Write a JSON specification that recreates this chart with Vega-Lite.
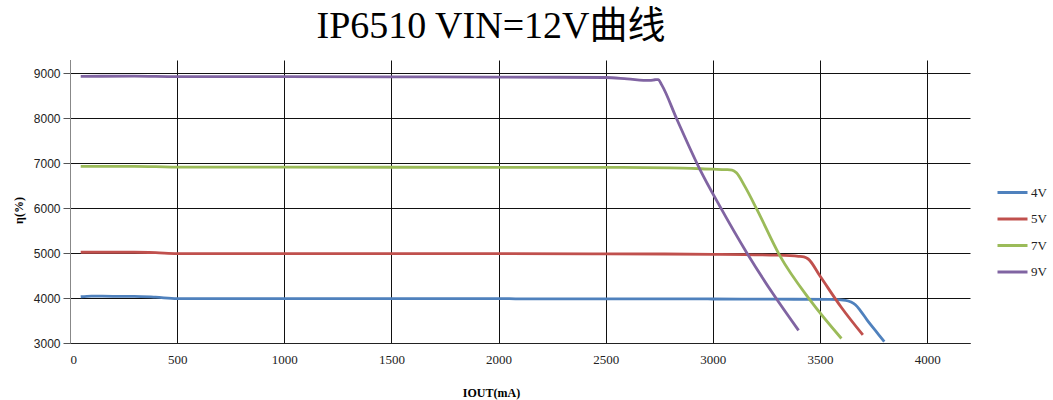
{
  "$schema": "https://vega.github.io/schema/vega-lite/v6.json",
  "autosize": {"type": "none"},
  "width": 900,
  "height": 283,
  "padding": {"left": 70, "top": 60, "right": 83, "bottom": 57},
  "background": "white",
  "title": {
    "text": "IP6510 VIN=12V曲线",
    "font": "Liberation Serif, Noto Sans CJK SC",
    "fontSize": 38,
    "fontWeight": "normal",
    "color": "#000",
    "anchor": "middle",
    "dx": -29,
    "offset": 14
  },
  "data": {
    "values": [
      {"series": "4V", "x": 50, "y": 4030},
      {"series": "4V", "x": 100, "y": 4045},
      {"series": "4V", "x": 200, "y": 4040},
      {"series": "4V", "x": 300, "y": 4040},
      {"series": "4V", "x": 400, "y": 4020},
      {"series": "4V", "x": 500, "y": 3990},
      {"series": "4V", "x": 1000, "y": 3990},
      {"series": "4V", "x": 1500, "y": 3990},
      {"series": "4V", "x": 2000, "y": 3990},
      {"series": "4V", "x": 2100, "y": 3982},
      {"series": "4V", "x": 2500, "y": 3982},
      {"series": "4V", "x": 3000, "y": 3980},
      {"series": "4V", "x": 3300, "y": 3975},
      {"series": "4V", "x": 3550, "y": 3970},
      {"series": "4V", "x": 3620, "y": 3950},
      {"series": "4V", "x": 3645, "y": 3910},
      {"series": "4V", "x": 3665, "y": 3850},
      {"series": "4V", "x": 3690, "y": 3710},
      {"series": "4V", "x": 3720, "y": 3510},
      {"series": "4V", "x": 3760, "y": 3270},
      {"series": "4V", "x": 3800, "y": 3030},
      {"series": "5V", "x": 50, "y": 5020},
      {"series": "5V", "x": 300, "y": 5020},
      {"series": "5V", "x": 400, "y": 5010},
      {"series": "5V", "x": 500, "y": 4990},
      {"series": "5V", "x": 1000, "y": 4990},
      {"series": "5V", "x": 2000, "y": 4988},
      {"series": "5V", "x": 2500, "y": 4985},
      {"series": "5V", "x": 3000, "y": 4975},
      {"series": "5V", "x": 3300, "y": 4955},
      {"series": "5V", "x": 3400, "y": 4930},
      {"series": "5V", "x": 3425, "y": 4915},
      {"series": "5V", "x": 3445, "y": 4870},
      {"series": "5V", "x": 3500, "y": 4490},
      {"series": "5V", "x": 3600, "y": 3790},
      {"series": "5V", "x": 3700, "y": 3180},
      {"series": "7V", "x": 50, "y": 6930},
      {"series": "7V", "x": 300, "y": 6930},
      {"series": "7V", "x": 400, "y": 6925},
      {"series": "7V", "x": 500, "y": 6915},
      {"series": "7V", "x": 1000, "y": 6915},
      {"series": "7V", "x": 2000, "y": 6910},
      {"series": "7V", "x": 2500, "y": 6910},
      {"series": "7V", "x": 2800, "y": 6900},
      {"series": "7V", "x": 3000, "y": 6870},
      {"series": "7V", "x": 3060, "y": 6860},
      {"series": "7V", "x": 3090, "y": 6850},
      {"series": "7V", "x": 3110, "y": 6790},
      {"series": "7V", "x": 3150, "y": 6480},
      {"series": "7V", "x": 3206, "y": 5970},
      {"series": "7V", "x": 3313, "y": 4940},
      {"series": "7V", "x": 3453, "y": 3960},
      {"series": "7V", "x": 3600, "y": 3100},
      {"series": "9V", "x": 50, "y": 8935},
      {"series": "9V", "x": 300, "y": 8940},
      {"series": "9V", "x": 500, "y": 8930},
      {"series": "9V", "x": 1000, "y": 8930},
      {"series": "9V", "x": 1500, "y": 8925},
      {"series": "9V", "x": 2000, "y": 8920},
      {"series": "9V", "x": 2500, "y": 8910},
      {"series": "9V", "x": 2600, "y": 8880},
      {"series": "9V", "x": 2705, "y": 8845},
      {"series": "9V", "x": 2730, "y": 8860},
      {"series": "9V", "x": 2745, "y": 8865},
      {"series": "9V", "x": 2762, "y": 8740},
      {"series": "9V", "x": 2833, "y": 7970},
      {"series": "9V", "x": 2940, "y": 6860},
      {"series": "9V", "x": 3033, "y": 6040},
      {"series": "9V", "x": 3158, "y": 5010},
      {"series": "9V", "x": 3280, "y": 4100},
      {"series": "9V", "x": 3400, "y": 3280}
    ]
  },
  "mark": {"type": "line", "strokeWidth": 2.8, "interpolate": "monotone", "clip": true},
  "encoding": {
    "x": {
      "field": "x",
      "type": "quantitative",
      "scale": {"domain": [0, 4200], "nice": false, "zero": false},
      "axis": {
        "values": [0, 500, 1000, 1500, 2000, 2500, 3000, 3500, 4000],
        "format": "d",
        "title": "IOUT(mA)",
        "titleFont": "Liberation Serif, Noto Sans CJK SC",
        "titleFontWeight": "bold",
        "titleFontSize": 12,
        "titleColor": "#000",
        "titleX": 421,
        "titlePadding": 21,
        "labelFont": "Liberation Serif",
        "labelFontSize": 13,
        "labelColor": "#222",
        "labelPadding": 10,
        "ticks": false,
        "domainColor": "#222",
        "domainWidth": 1,
        "grid": true,
        "gridColor": "#111",
        "gridWidth": 1
      }
    },
    "y": {
      "field": "y",
      "type": "quantitative",
      "scale": {"domain": [3000, 9300], "nice": false, "zero": false},
      "axis": {
        "values": [3000, 4000, 5000, 6000, 7000, 8000, 9000],
        "format": "d",
        "title": "η(%)",
        "titleFont": "Liberation Serif",
        "titleFontWeight": "bold",
        "titleFontSize": 12,
        "titleColor": "#000",
        "titleX": -45,
        "titleY": 150,
        "labelFont": "Liberation Sans",
        "labelFontSize": 12,
        "labelColor": "#222",
        "labelPadding": 3,
        "tickSize": 7,
        "tickColor": "#555",
        "domainColor": "#888",
        "domainWidth": 1,
        "grid": true,
        "gridColor": "#111",
        "gridWidth": 1
      }
    },
    "color": {
      "field": "series",
      "type": "nominal",
      "scale": {
        "domain": ["4V", "5V", "7V", "9V"],
        "range": ["#4F81BD", "#C0504D", "#9BBB59", "#8064A2"]
      },
      "legend": {
        "title": null,
        "orient": "none",
        "legendX": 926,
        "legendY": 116,
        "symbolType": "stroke",
        "symbolSize": 900,
        "symbolStrokeWidth": 3,
        "labelFont": "Liberation Serif",
        "labelFontSize": 13,
        "labelColor": "#222",
        "labelOffset": 2,
        "rowPadding": 2.5
      }
    }
  },
  "config": {"view": {"stroke": null}}
}
